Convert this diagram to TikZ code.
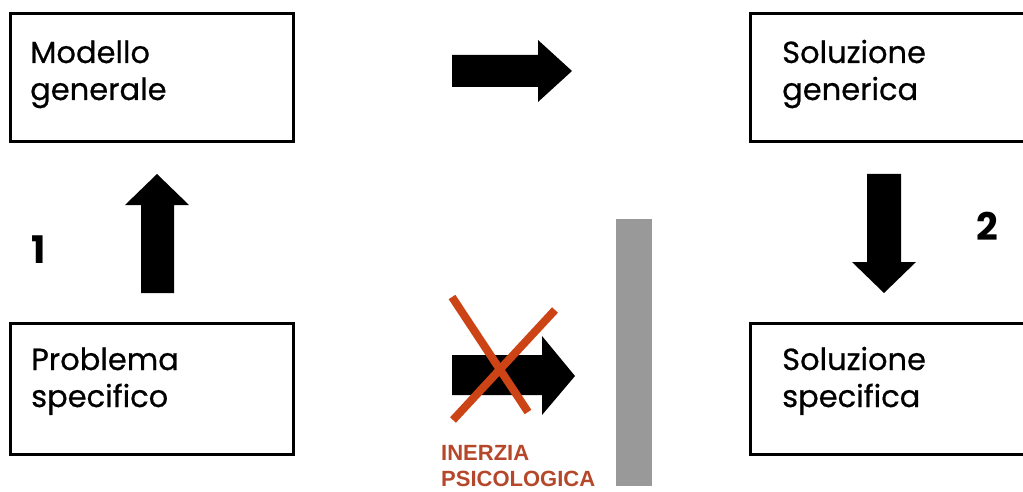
\documentclass[tikz,border=0pt]{standalone}
\usepackage{fontspec}
\setmainfont{Poppins}
\newfontfamily\boxfont{Poppins}[FakeBold=0.6]
\newfontfamily\arialfont{Liberation Sans}
\definecolor{xred}{HTML}{CC4416}
\definecolor{txtred}{HTML}{B5472A}
\definecolor{bargray}{HTML}{999999}
\begin{document}
\begin{tikzpicture}[x=1pt,y=-1pt,
  boxstyle/.style={draw=black,line width=3pt},
  lbl/.style={anchor=base west,inner sep=0pt,font=\boxfont\fontsize{30.5}{37}\selectfont,align=left,text=black},
  num/.style={anchor=base west,inner sep=0pt,font=\fontsize{38}{38}\selectfont\bfseries},
  blockarrow/.style={fill=black,draw=none},
  crossline/.style={draw=xred,line width=8pt},
  inerzia/.style={anchor=base west,inner sep=0pt,font=\arialfont\bfseries\fontsize{22}{26}\selectfont,align=left,text=txtred}]
\useasboundingbox (0,0) rectangle (1023,492);
\clip (0,0) rectangle (1023,492);
% boxes
\draw[boxstyle] (10,14) rectangle (293,142);
\draw[boxstyle] (750,14) rectangle (1040,142);
\draw[boxstyle] (10,323) rectangle (293,454);
\draw[boxstyle] (750,323) rectangle (1040,454);
% texts (anchored at the baseline of the last line)
\node[lbl] (mg) at (30,100) {Modello\\generale};
\node[lbl] (sg) at (782,100) {Soluzione\\generica};
\node[lbl] (ps) at (31,407) {Problema\\specifico};
\node[lbl] (ss) at (782,407) {Soluzione\\specifica};
\node[num] (n1) at (31,263) {1};
\node[num] (n2) at (976,240) {2};
% block arrows
\fill[blockarrow] (141,293) -- (141,205) -- (125,205) -- (157,174) -- (189,205) -- (174,205) -- (174,293) -- cycle;
\fill[blockarrow] (452,55) -- (538,55) -- (538,40) -- (572,71) -- (538,102) -- (538,87) -- (452,87) -- cycle;
\fill[blockarrow] (867,174) -- (901,174) -- (901,262) -- (916,262) -- (884,293) -- (852,262) -- (867,262) -- cycle;
\fill[blockarrow] (452,355) -- (542,355) -- (542,336) -- (575,376) -- (542,415) -- (542,395) -- (452,395) -- cycle;
% cross
\draw[crossline] (452,297) -- (528,412);
\draw[crossline] (555,310) -- (453,420);
% gray bar
\fill[bargray] (616,219) rectangle (652,486);
% inerzia label
\node[inerzia] (ip) at (441,486) {INERZIA\\PSICOLOGICA};
\end{tikzpicture}
\end{document}
